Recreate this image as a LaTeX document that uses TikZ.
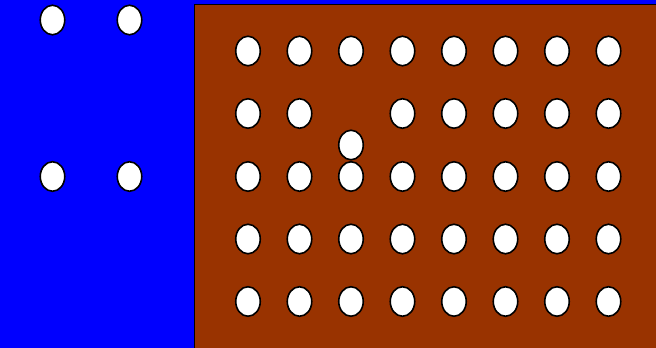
\documentclass[tikz,border=0pt]{standalone}
\usetikzlibrary{shapes.geometric}
\definecolor{bgblue}{HTML}{0000FF}
\definecolor{board}{HTML}{993300}
\begin{document}
\begin{tikzpicture}[x=1pt,y=-1pt,
  hole/.style={ellipse,draw=black,fill=white,line width=1.6pt,minimum width=24.5pt,minimum height=29.5pt,inner sep=0pt}]
\useasboundingbox (0,0) rectangle (656,348);
\clip (0,0) rectangle (656,348);
\fill[bgblue] (0,0) rectangle (656,348);
\draw[fill=board,line width=1.8pt] (194.5,4.5) rectangle (662,354);
% blue area holes
\node[hole] (b11) at (52.5,20) {};
\node[hole] (b12) at (129.5,20) {};
\node[hole] (b21) at (52.5,176.5) {};
\node[hole] (b22) at (129.5,176.5) {};
% board grid
\foreach \c/\x in {1/248,2/299.5,3/351,4/402.5,5/454,6/505.5,7/557,8/608.5}{
  \foreach \r/\y in {1/51,2/113.5,3/176.5,4/239,5/301.5}{
    \ifnum\c=3 \ifnum\r=2 \else
      \node[hole] (g\r\c) at (\x,\y) {};
    \fi\else
      \node[hole] (g\r\c) at (\x,\y) {};
    \fi
  }
}
\node[hole] (g23) at (351,145) {};
\end{tikzpicture}
\end{document}
